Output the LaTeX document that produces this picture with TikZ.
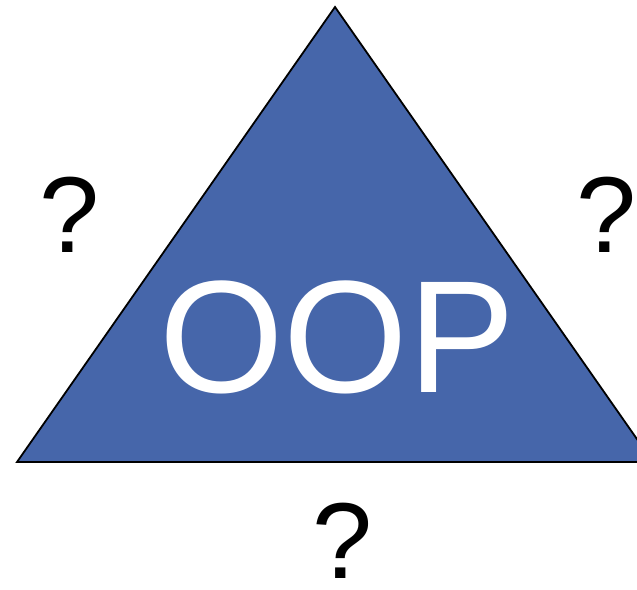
\documentclass[tikz,border=0pt]{standalone}
\usepackage{fontspec}
\setmainfont{Liberation Sans}
\usepackage{xcolor}
\definecolor{oopblue}{RGB}{70,102,170}
\tikzset{
  triside/.style={
    draw=black,
    fill=oopblue,
    line width=1.8pt,
    line join=miter
  },
  mainlabel/.style={
    anchor=base,
    inner sep=0pt,
    text=white,
    font=\fontsize{160}{160}\selectfont
  },
  qmark/.style={
    anchor=base,
    inner sep=0pt,
    text=black,
    font=\fontsize{108}{108}\selectfont
  }
}

\begin{document}
\begin{tikzpicture}[x=1pt, y=-1pt]
  \useasboundingbox (0,0) rectangle (637,589);
  \clip (0,0) rectangle (637,589);

  \coordinate (apex) at (335,7);
  \coordinate (left) at (17,462);
  \coordinate (right) at (653,462);
  \draw[triside] (left) -- (apex) -- (right) -- cycle;

  \node[mainlabel] (oop) at (337,392) {OOP};

  \node[qmark] (qleft) at (70,252) {?};
  \node[qmark] (qright) at (607,252) {?};
  \node[qmark] (qbottom) at (343,578) {?};
\end{tikzpicture}
\end{document}
